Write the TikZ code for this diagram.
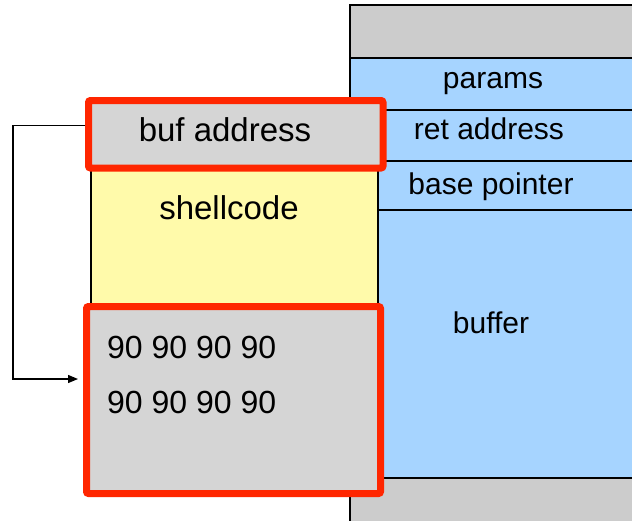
\documentclass[tikz,border=0pt]{standalone}
\usepackage{fontspec}
\setmainfont{Liberation Sans}
\usetikzlibrary{arrows.meta}
\definecolor{stackgray}{HTML}{CCCCCC}
\definecolor{boxgray}{HTML}{D5D5D5}
\definecolor{slotblue}{HTML}{A6D4FF}
\definecolor{codeyellow}{HTML}{FFFAAA}
\definecolor{hired}{HTML}{FF2600}

\begin{document}
\begin{tikzpicture}[x=1pt, y=-1pt,
  slot/.style={draw=black, line width=1.3pt},
  redbox/.style={draw=hired, fill=boxgray, line width=7pt, rounded corners=2pt, inner sep=0pt},
  lbl/.style={anchor=base, inner sep=0pt, font=\fontsize{30}{36}\selectfont},
  big/.style={anchor=base, inner sep=0pt, font=\fontsize{33}{40}\selectfont}]
\useasboundingbox (0,0) rectangle (632,520);
% Stack frame on the right
\draw[slot, fill=stackgray] (350,5) rectangle (650,58);
\draw[slot, fill=slotblue] (350,58) rectangle (650,110);
\draw[slot, fill=slotblue] (350,110) rectangle (650,161);
\draw[slot, fill=slotblue] (350,161) rectangle (650,210);
\draw[slot, fill=slotblue] (350,210) rectangle (650,478);
\draw[slot, fill=stackgray] (350,478) rectangle (650,540);
\node[lbl] (params) at (493,88) {params};
\node[lbl] (ret) at (489,139) {ret address};
\node[lbl] (bp) at (491,194) {base pointer};
\node[lbl] (buffer) at (491,333) {buffer};
% Injected data
\node[draw=black, line width=1.3pt, fill=codeyellow, inner sep=0pt,
  minimum width=287pt, minimum height=137pt] (shell) at (234.5,236.5) {};
\node[redbox, minimum width=294.5pt, minimum height=67.5pt] (bufaddr) at (235.75,134.25) {};
\node[redbox, minimum width=294pt, minimum height=187pt] (nops) at (233.5,400) {};
\node[big] (buftxt) at (225,141) {buf address};
\node[big] (shelltxt) at (229,219) {shellcode};
\node[big, anchor=base west, font=\fontsize{32}{38}\selectfont] (nop1) at (107,358) {90 90 90 90};
\node[big, anchor=base west, font=\fontsize{32}{38}\selectfont] (nop2) at (107,413) {90 90 90 90};
% Jump back into the sled
\draw[line width=1.3pt, -{Triangle[length=10pt,width=8pt]}, shorten >=5pt]
  ([yshift=9pt]bufaddr.west) -- ++(-72,0) |- ([yshift=21pt]nops.west);
\end{tikzpicture}
\end{document}
